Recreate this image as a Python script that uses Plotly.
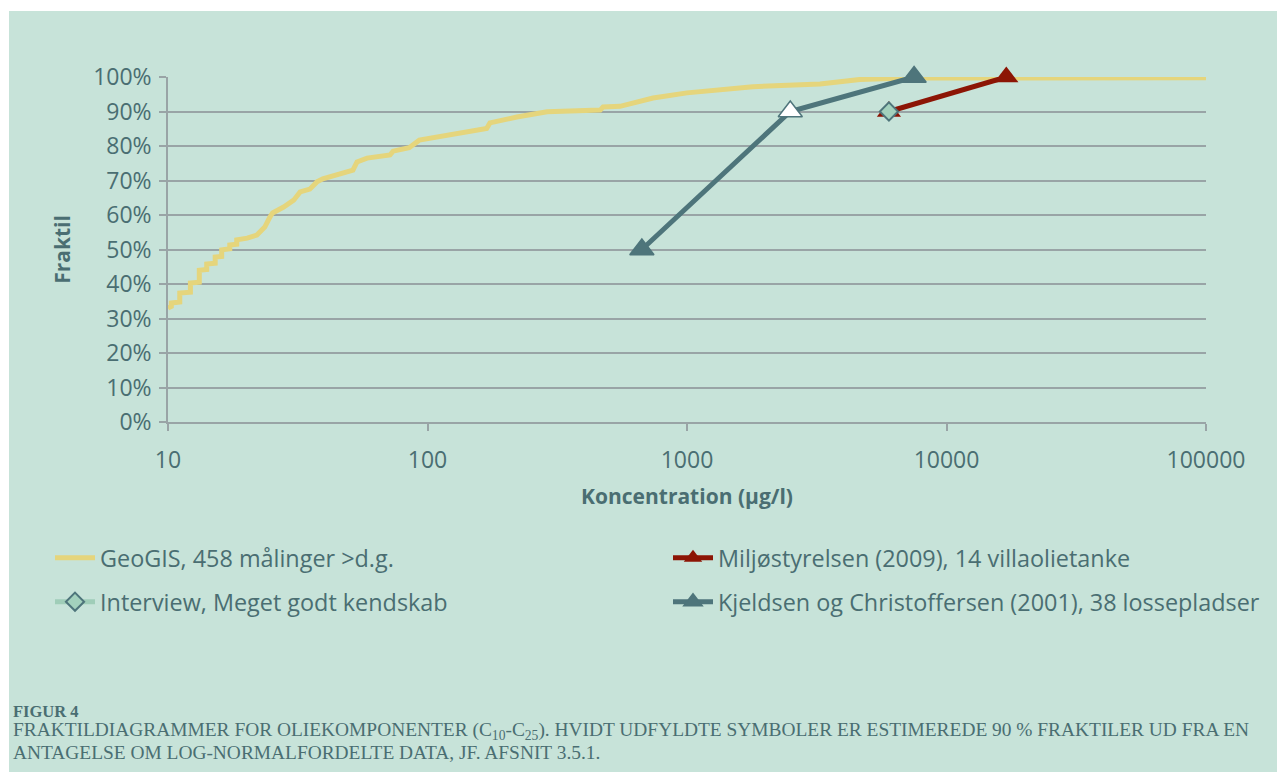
import plotly.graph_objects as go

# ---------------- data ----------------
geogis_x = [10, 10.3, 10.3, 11.1, 11.1, 12.2, 12.2, 13.2, 13.2, 14.1, 14.1, 15.2, 15.2,
            16.1, 16.1, 17.3, 17.3, 18.4, 18.4, 20.2, 22.0, 23.6, 24.7, 25.3, 27.9, 30.5,
            32.3, 35.2, 37.5, 39.5, 51.6, 53.5, 58.5, 71.7, 73.7, 85, 93, 109, 122, 169,
            174, 221, 289, 463, 475, 552, 740, 1000, 1795, 3256, 4645, 7000, 100000]
geogis_y = [33.0, 33.5, 34.5, 34.8, 37.4, 37.6, 40.3, 40.5, 44.0, 44.2, 45.8, 46.0, 47.8,
            48.0, 49.9, 50.2, 51.3, 51.5, 52.8, 53.3, 54.2, 56.5, 59.4, 60.6, 62.3, 64.3,
            66.7, 67.5, 69.6, 70.5, 73.0, 75.4, 76.5, 77.4, 78.5, 79.5, 81.7, 82.6, 83.3,
            85.1, 86.7, 88.4, 89.9, 90.4, 91.3, 91.5, 93.9, 95.4, 97.2, 98.0, 99.3, 99.7, 99.8]

miljo_x = [6000, 17000]
miljo_y = [90, 100]

interview_x = [6000]
interview_y = [90]

kjeldsen_x = [670, 2500, 7500]
kjeldsen_y = [50, 90, 100]
kjeldsen_fill = ["#4e757b", "#ffffff", "#4e757b"]

x_ticks = [10, 100, 1000, 10000, 100000]
x_ticktext = ["10", "100", "1000", "10000", "100000"]
y_ticks = [0, 10, 20, 30, 40, 50, 60, 70, 80, 90, 100]
y_ticktext = ["0%", "10%", "20%", "30%", "40%", "50%", "60%", "70%", "80%", "90%", "100%"]

names = ["GeoGIS, 458 målinger >d.g.",
         "Miljøstyrelsen (2009), 14 villaolietanke",
         "Interview, Meget godt kendskab",
         "Kjeldsen og Christoffersen (2001), 38 lossepladser"]

caption_title = "FIGUR 4"
caption_1 = ("FRAKTILDIAGRAMMER FOR OLIEKOMPONENTER (C<sub>10</sub>-C<sub>25</sub>). HVIDT UDFYLDTE "
             "SYMBOLER ER ESTIMEREDE 90 % FRAKTILER UD FRA EN")
caption_2 = "ANTAGELSE OM LOG-NORMALFORDELTE DATA, JF. AFSNIT 3.5.1."

# ---------------- style ----------------
BG = "#c7e3d9"
TXT = "#4a6e72"
GRID = "#99a4a6"
YEL = "#e5d57c"
RED = "#8c1505"
TEAL = "#4e757b"

OFF = 8  # page body margin
W, H = 1285 - OFF, 772 - OFF
# plot area in screen pixels: x 168..1206, y 77..422
L = 168 - OFF
T = 77 - OFF
R = W - (1206 - OFF)
B = H - (422 - OFF)
PW, PH = W - L - R, H - T - B


def px_x(p):
    """screen pixel x -> paper x"""
    return (p - OFF - L) / PW


def px_y(p):
    """screen pixel y -> paper y"""
    return (H - B - (p - OFF)) / PH


fig = go.Figure()

fig.add_trace(go.Scatter(
    x=geogis_x, y=geogis_y, mode="lines", name=names[0],
    line=dict(color=YEL, width=5), cliponaxis=False, legend="legend"))

fig.add_trace(go.Scatter(
    x=miljo_x, y=miljo_y, mode="lines+markers", name=names[1],
    line=dict(color=RED, width=5),
    marker=dict(symbol="triangle-up", size=21, color=RED),
    cliponaxis=False, legend="legend2"))

fig.add_trace(go.Scatter(
    x=interview_x, y=interview_y, mode="lines+markers", name=names[2],
    line=dict(color="#9fcdb8", width=5),
    marker=dict(symbol="diamond", size=14, color="#a3d1bd",
                line=dict(color=TEAL, width=2)),
    cliponaxis=False, legend="legend3"))

fig.add_trace(go.Scatter(
    x=kjeldsen_x, y=kjeldsen_y, mode="lines+markers", name=names[3],
    line=dict(color=TEAL, width=5),
    marker=dict(symbol="triangle-up", size=21, color=kjeldsen_fill,
                line=dict(color=TEAL, width=1.5)),
    cliponaxis=False, legend="legend4"))

legend_font = dict(family="Open Sans", size=23.4, color=TXT)
row1 = px_y(558)
row2 = px_y(602)
col1 = px_x(50)
col2 = px_x(668)
common = dict(orientation="h", yanchor="middle", xanchor="left",
              bgcolor="rgba(0,0,0,0)", font=legend_font, itemwidth=40)

fig.update_layout(
    width=W, height=H,
    margin=dict(l=L, r=R, t=T, b=B),
    paper_bgcolor=BG, plot_bgcolor=BG,
    showlegend=True,
    legend=dict(x=col1, y=row1, **common),
    legend2=dict(x=col2, y=row1, **common),
    legend3=dict(x=col1, y=row2, **common),
    legend4=dict(x=col2, y=row2, **common),
    xaxis=dict(
        type="log", range=[1, 5], tickvals=x_ticks, ticktext=x_ticktext,
        showgrid=False, showline=True, linecolor=GRID, linewidth=1.5,
        ticks="outside", ticklen=7, tickcolor=GRID, tickwidth=1.5,
        ticklabelstandoff=10,
        tickfont=dict(family="Open Sans", size=23, color=TXT),
        title=dict(text="<b>Koncentration (µg/l)</b>", standoff=15,
                   font=dict(family="Open Sans", size=21, color=TXT)),
        zeroline=False,
    ),
    yaxis=dict(
        range=[0, 100], tickvals=y_ticks, ticktext=y_ticktext,
        showgrid=True, gridcolor=GRID, gridwidth=1.5,
        showline=True, linecolor=GRID, linewidth=1.5,
        ticks="outside", ticklen=7, tickcolor=GRID, tickwidth=1.5,
        ticklabelstandoff=3,
        tickfont=dict(family="Open Sans", size=23, color=TXT),
        title=dict(text="<b>Fraktil</b>", standoff=17,
                   font=dict(family="Open Sans", size=21, color=TXT)),
        zeroline=False,
    ),
)

# white paper border (top and left) beyond the page margin
fig.add_shape(type="rect", xref="paper", yref="paper",
              x0=px_x(0), x1=px_x(1300), y0=px_y(0), y1=px_y(11),
              fillcolor="white", line=dict(width=0), layer="below")
fig.add_shape(type="rect", xref="paper", yref="paper",
              x0=px_x(0), x1=px_x(9), y0=px_y(800), y1=px_y(0),
              fillcolor="white", line=dict(width=0), layer="below")

cap_x = px_x(11)
fig.add_annotation(text="<b>" + caption_title + "</b>", xref="paper", yref="paper",
                   x=cap_x, y=px_y(711), xanchor="left", yanchor="middle", showarrow=False,
                   font=dict(family="Liberation Serif", size=16.5, color=TXT))
fig.add_annotation(text=caption_1, xref="paper", yref="paper",
                   x=cap_x, y=px_y(731), xanchor="left", yanchor="middle", showarrow=False,
                   font=dict(family="Liberation Serif", size=19.4, color=TXT))
fig.add_annotation(text=caption_2, xref="paper", yref="paper",
                   x=cap_x, y=px_y(752), xanchor="left", yanchor="middle", showarrow=False,
                   font=dict(family="Liberation Serif", size=19.4, color=TXT))

fig.write_html("out.html")
